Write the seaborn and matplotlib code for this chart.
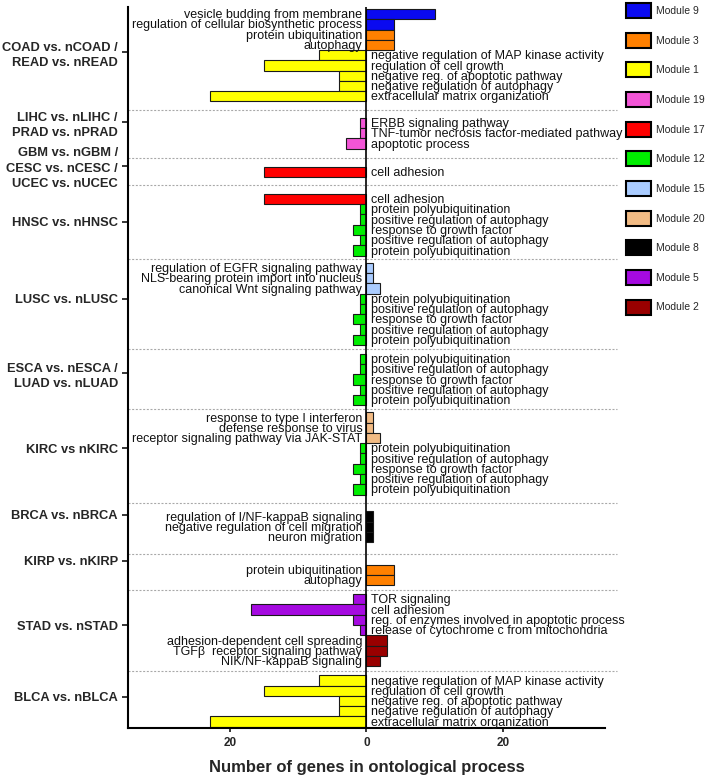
import matplotlib
matplotlib.use("Agg")
import matplotlib.pyplot as plt
from matplotlib.patches import Patch
import seaborn as sns
import pandas as pd

# comparisons shown on the y axis, top to bottom
comparisons = [
    "COAD vs. nCOAD /\nREAD vs. nREAD",
    "LIHC vs. nLIHC /\nPRAD vs. nPRAD",
    "GBM vs. nGBM /\nCESC vs. nCESC /\nUCEC vs. nUCEC",
    "HNSC vs. nHNSC",
    "LUSC vs. nLUSC",
    "ESCA vs. nESCA /\nLUAD vs. nLUAD",
    "KIRC vs nKIRC",
    "BRCA vs. nBRCA",
    "KIRP vs. nKIRP",
    "STAD vs. nSTAD",
    "BLCA vs. nBLCA",
]
group_sizes = [9, 3, 1, 6, 8, 5, 8, 3, 2, 7, 5]

green_terms = ["protein polyubiquitination", "positive regulation of autophagy",
               "response to growth factor", "positive regulation of autophagy",
               "protein polyubiquitination"]
yellow_terms = ["negative regulation of MAP kinase activity", "regulation of cell growth",
                "negative reg. of apoptotic pathway", "negative regulation of autophagy",
                "extracellular matrix organization"]

terms = (
    ["vesicle budding from membrane", "regulation of cellular biosynthetic process",
     "protein ubiquitination", "autophagy"] + yellow_terms
    + ["ERBB signaling pathway", "TNF-tumor necrosis factor-mediated pathway", "apoptotic process"]
    + ["cell adhesion"]
    + ["cell adhesion"] + green_terms
    + ["regulation of EGFR signaling pathway", "NLS-bearing protein import into nucleus",
       "canonical Wnt signaling pathway"] + green_terms
    + green_terms
    + ["response to type I interferon", "defense response to virus",
       "receptor signaling pathway via JAK-STAT"] + green_terms
    + ["regulation of I/NF-kappaB signaling", "negative regulation of cell migration",
       "neuron migration"]
    + ["protein ubiquitination", "autophagy"]
    + ["TOR signaling", "cell adhesion", "reg. of enzymes involved in apoptotic process",
       "release of cytochrome c from mitochondria", "adhesion-dependent cell spreading",
       "TGF\u03b2  receptor signaling pathway", "NIK/NF-kappaB signaling"]
    + yellow_terms
)

modules = (
    ["Module 9"] * 2 + ["Module 3"] * 2 + ["Module 1"] * 5
    + ["Module 19"] * 3
    + ["Module 17"]
    + ["Module 17"] + ["Module 12"] * 5
    + ["Module 15"] * 3 + ["Module 12"] * 5
    + ["Module 12"] * 5
    + ["Module 20"] * 3 + ["Module 12"] * 5
    + ["Module 8"] * 3
    + ["Module 3"] * 2
    + ["Module 5"] * 4 + ["Module 2"] * 3
    + ["Module 1"] * 5
)

# negative = drawn to the left of zero
gene_counts = (
    [10, 4, 4, 4, -7, -15, -4, -4, -23]
    + [-1, -1, -3]
    + [-15]
    + [-15, -1, -1, -2, -1, -2]
    + [1, 1, 2, -1, -1, -2, -1, -2]
    + [-1, -1, -2, -1, -2]
    + [1, 1, 2, -1, -1, -2, -1, -2]
    + [1, 1, 1]
    + [4, 4]
    + [-2, -17, -2, -1, 3, 3, 2]
    + [-7, -15, -4, -4, -23]
)

module_order = ["Module 9", "Module 3", "Module 1", "Module 19", "Module 17", "Module 12",
                "Module 15", "Module 20", "Module 8", "Module 5", "Module 2"]
module_colors = {
    "Module 9": "#0a0af0", "Module 3": "#ff8000", "Module 1": "#ffff00",
    "Module 19": "#f255d6", "Module 17": "#ff0000", "Module 12": "#00ee00",
    "Module 15": "#aaccff", "Module 20": "#f2bb84", "Module 8": "#000000",
    "Module 5": "#a50ae0", "Module 2": "#990000",
}

# layout: extra blank rows after each group, and tick nudges (in rows)
group_gaps = [1.6, 1.75, 1.65, 0.7, 0.85, 0.7, 1.65, 2.2, 0.85, 0.9]
tick_shift = [-0.3, -1.1, -0.6, -0.3, -0.5, -0.6, -0.5, -1.2, -1.4, -0.5, -0.4]

positions, starts, ends = [], [], []
y = 0.0
for g, n in enumerate(group_sizes):
    starts.append(y)
    for _ in range(n):
        positions.append(y)
        y += 1
    ends.append(y - 1)
    if g < len(group_gaps):
        y += group_gaps[g]

df = pd.DataFrame({"pos": positions, "count": gene_counts, "module": modules, "term": terms})

sns.set_style("ticks")
plt.rcParams["font.family"] = ["Liberation Sans", "DejaVu Sans"]

fig = plt.figure(figsize=(7.08, 7.77), dpi=100)
ax = fig.add_axes([0.1808, 0.0631, 0.6737, 0.928])

sns.barplot(data=df, x="count", y="pos", hue="module", hue_order=module_order,
            palette=module_colors, saturation=1, orient="h", native_scale=True,
            dodge=False, width=1.0, edgecolor="#1a1a1a", linewidth=0.8,
            errorbar=None, legend=False, ax=ax)

ax.axvline(0, color="black", lw=1.2, zorder=4)

for p, t, v in zip(df["pos"], df["term"], df["count"]):
    if v > 0:
        ax.annotate(t, (0, p), xytext=(-3, -0.8), textcoords="offset points",
                    ha="right", va="center", fontsize=9, color="#111111")
    else:
        ax.annotate(t, (0, p), xytext=(3.5, -0.8), textcoords="offset points",
                    ha="left", va="center", fontsize=9, color="#111111")

# dotted separators between comparisons
trans = ax.get_yaxis_transform()
for g in range(len(group_sizes) - 1):
    ysep = (ends[g] + starts[g + 1]) / 2
    ax.plot([0, 1.025], [ysep, ysep], transform=trans, clip_on=False,
            color="#a8a8a8", lw=0.8, ls=(0, (1.8, 1.5)))

ax.set_xlim(-35, 35)
ax.set_ylim(positions[-1] + 0.62, -0.7)
ax.set_xticks([-20, 0, 20], labels=["20", "0", "20"])
ticks = [(s + e) / 2 + d for s, e, d in zip(starts, ends, tick_shift)]
ax.set_yticks(ticks, labels=comparisons)
ax.set_ylabel("")
ax.set_xlabel("Number of genes in ontological process", fontsize=12,
              fontweight="bold", labelpad=8)

ax.tick_params(axis="y", length=4.3, width=1.3, pad=3, labelsize=9.3)
ax.tick_params(axis="x", length=3, width=1.3, pad=3.5, labelsize=8.5)
for lab in ax.get_yticklabels():
    lab.set_fontweight("bold")
    lab.set_linespacing(1.38)
for lab in ax.get_xticklabels():
    lab.set_fontweight("bold")

sns.despine(ax=ax)
for side in ["left", "bottom"]:
    ax.spines[side].set_linewidth(1.5)
    ax.spines[side].set_color("black")

handles = [Patch(facecolor=module_colors[m], edgecolor="black", linewidth=1.5, label=m)
           for m in module_order]
fig.legend(handles=handles, loc="upper left", bbox_to_anchor=(626 / 708, 1 - 3 / 777),
           frameon=False, fontsize=7.5, handlelength=2.4, handleheight=1.85,
           labelspacing=1.4, handletextpad=0.45, borderpad=0, borderaxespad=0)

fig.savefig("out.png", dpi=100)
